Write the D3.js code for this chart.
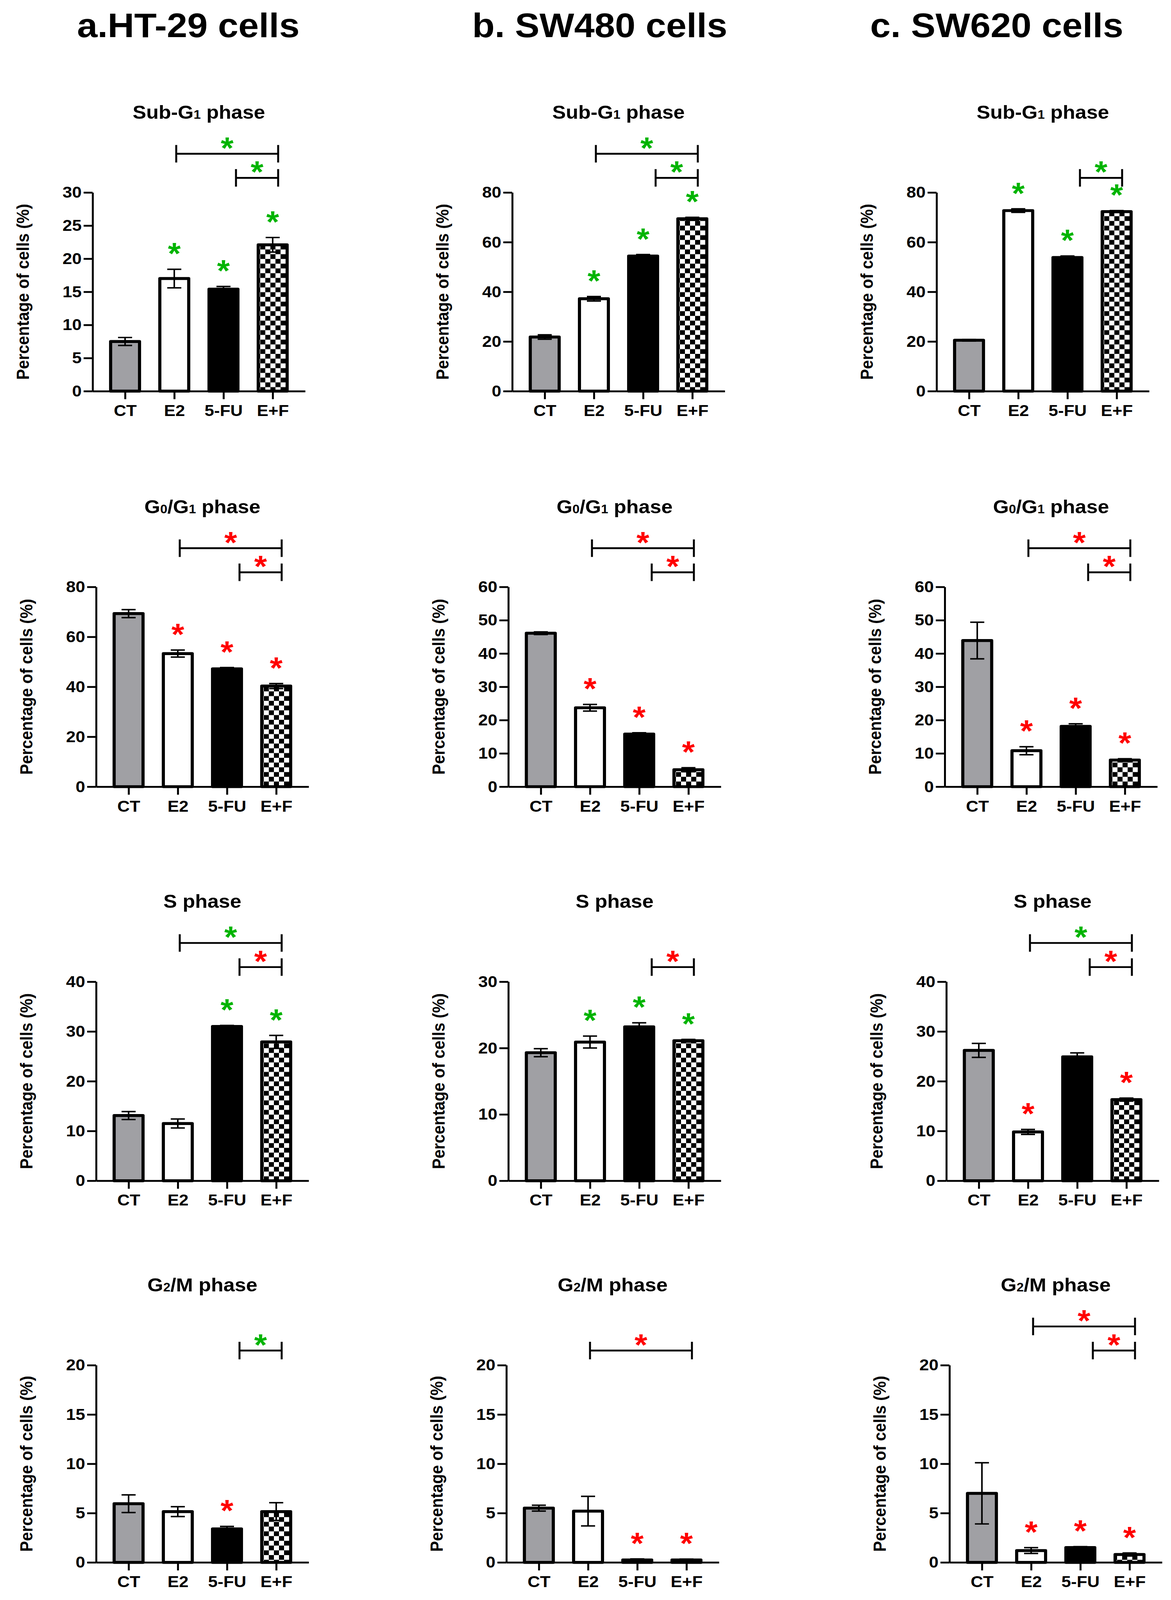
<!DOCTYPE html>
<html>
<head>
<meta charset="utf-8">
<script src="https://cdn.jsdelivr.net/npm/d3@7"></script>
<style>
  html, body { margin: 0; padding: 0; background: #fff; overflow: hidden; }
  #fig { display: block; width: 100vw; height: 100vh; }
  svg text { font-family: "Liberation Sans", Arial, sans-serif; font-weight: bold; }
</style>
</head>
<body>
<svg id="fig" viewBox="0 0 2997 4381" preserveAspectRatio="none"></svg>
<script>
// 1: DATA
const groups = ["CT", "E2", "5-FU", "E+F"];
const cellLines = ["a.HT-29 cells", "b. SW480 cells", "c. SW620 cells"];
const yLabel = "Percentage of cells (%)";

// "_" marks a subscript digit
const phaseTitles = ["Sub-G_1 phase", "G_0/G_1 phase", "S phase", "G_2/M phase"];

// Sub-G1 phase: one row per cell line, one value per group
const subG1Means  = [[7.5, 17.0, 15.4, 22.1], [21.8, 37.2, 54.4, 69.4], [20.5, 72.7, 53.8, 72.3]];
const subG1Errors = [[0.6, 1.4, 0.4, 1.1], [0.9, 0.9, 0.6, 0.6], [0.3, 0.7, 0.6, 0.4]];
const subG1Stars  = [["", "g", "g", "g"], ["", "g", "g", "g"], ["", "g", "g", "g"]];
const subG1Brackets = [
  [["E2", "E+F", "g", 1], ["5-FU", "E+F", "g", 0]],
  [["E2", "E+F", "g", 1], ["5-FU", "E+F", "g", 0]],
  [["5-FU", "E+F", "g", 0]]
];
const subG1YMax = [30, 80, 80];
const subG1YStep = [5, 20, 20];

// G0/G1 phase
const g0g1Means  = [[69.3, 53.3, 47.2, 40.3], [46.1, 23.7, 15.8, 5.1], [43.9, 10.8, 18.1, 8.0]];
const g0g1Errors = [[1.6, 1.4, 0.5, 1.0], [0.4, 1.0, 0.4, 0.6], [5.5, 1.2, 0.8, 0.4]];
const g0g1Stars  = [["", "r", "r", "r"], ["", "r", "r", "r"], ["", "r", "r", "r"]];
const g0g1Brackets = [
  [["E2", "E+F", "r", 1], ["5-FU", "E+F", "r", 0]],
  [["E2", "E+F", "r", 1], ["5-FU", "E+F", "r", 0]],
  [["E2", "E+F", "r", 1], ["5-FU", "E+F", "r", 0]]
];
const g0g1YMax = [80, 60, 60];
const g0g1YStep = [20, 10, 10];

// S phase
const sMeans  = [[13.1, 11.5, 31.0, 27.9], [19.3, 20.9, 23.2, 21.1], [26.2, 9.8, 24.9, 16.3]];
const sErrors = [[0.8, 0.9, 0.2, 1.3], [0.6, 0.9, 0.6, 0.2], [1.4, 0.5, 0.8, 0.3]];
const sStars  = [["", "", "g", "g"], ["", "g", "g", "g"], ["", "r", "", "r"]];
const sBrackets = [
  [["E2", "E+F", "g", 1], ["5-FU", "E+F", "r", 0]],
  [["5-FU", "E+F", "r", 0]],
  [["E2", "E+F", "g", 1], ["5-FU", "E+F", "r", 0]]
];
const sYMax = [40, 30, 40];
const sYStep = [10, 10, 10];

// G2/M phase
const g2mMeans  = [[5.95, 5.15, 3.4, 5.15], [5.5, 5.2, 0.25, 0.25], [7.0, 1.2, 1.5, 0.8]];
const g2mErrors = [[0.9, 0.5, 0.25, 0.9], [0.3, 1.5, 0.1, 0.08], [3.1, 0.3, 0.1, 0.15]];
const g2mStars  = [["", "", "r", ""], ["", "", "r", "r"], ["", "r", "r", "r"]];
const g2mBrackets = [
  [["5-FU", "E+F", "g", 0]],
  [["E2", "E+F", "r", 0]],
  [["E2", "E+F", "r", 1], ["5-FU", "E+F", "r", 0]]
];
const g2mYMax = [20, 20, 20];
const g2mYStep = [5, 5, 5];

const phases = [
  { title: phaseTitles[0], means: subG1Means, errors: subG1Errors, stars: subG1Stars, brackets: subG1Brackets, yMax: subG1YMax, yStep: subG1YStep },
  { title: phaseTitles[1], means: g0g1Means, errors: g0g1Errors, stars: g0g1Stars, brackets: g0g1Brackets, yMax: g0g1YMax, yStep: g0g1YStep },
  { title: phaseTitles[2], means: sMeans, errors: sErrors, stars: sStars, brackets: sBrackets, yMax: sYMax, yStep: sYStep },
  { title: phaseTitles[3], means: g2mMeans, errors: g2mErrors, stars: g2mStars, brackets: g2mBrackets, yMax: g2mYMax, yStep: g2mYStep }
];

// 2: LAYOUT (figure drawn in 2997x4381 units, stretched to the window)
const panelX = [[237, 1311, 2397], [246, 1301, 2418], [246, 1301, 2422], [246, 1296, 2430]];
const panelTop = [527, 1607, 2688, 3738];
const panelH = [544, 547, 545, 540];
const plotW = 544;
const headerX = [482, 1535, 2551];

const starColor = { g: "#00b400", r: "#ff0000" };
const barFill = { "CT": "#a0a0a4", "E2": "#ffffff", "5-FU": "#000000", "E+F": "url(#checker)" };

const svg = d3.select("#fig");
svg.append("rect").attr("width", 2997).attr("height", 4381).attr("fill", "#fff");

// checkerboard pattern for E+F
const pat = svg.append("defs").append("pattern")
    .attr("id", "checker")
    .attr("patternUnits", "userSpaceOnUse")
    .attr("width", 26).attr("height", 26);
pat.append("rect").attr("width", 26).attr("height", 26).attr("fill", "#fff");
pat.append("rect").attr("width", 13).attr("height", 13).attr("fill", "#000");
pat.append("rect").attr("x", 13).attr("y", 13).attr("width", 13).attr("height", 13).attr("fill", "#000");

// column headers
svg.selectAll(".header")
    .data(cellLines)
    .join("text")
    .attr("class", "header")
    .attr("x", (d, i) => headerX[i])
    .attr("y", 102)
    .attr("text-anchor", "middle")
    .attr("font-size", 94)
    .text(d => d);

function addTitle(sel, title) {
    // split "Sub-G_1 phase" into normal and subscript pieces
    const parts = title.split(/(_\d)/).filter(p => p.length);
    parts.forEach(p => {
        if (p[0] === "_") sel.append("tspan").attr("font-size", 33).text(p.slice(1));
        else sel.append("tspan").text(p);
    });
}

// 3: DRAW PANELS
phases.forEach((ph, r) => {
    cellLines.forEach((cl, c) => {
        const h = panelH[r];
        const g = svg.append("g")
            .attr("transform", `translate(${panelX[r][c]},${panelTop[r]})`);

        const x = d3.scalePoint().domain(groups).range([0, plotW]).padding(0.66);
        const y = d3.scaleLinear().domain([0, ph.yMax[c]]).range([h, 0]);

        const data = groups.map((k, i) => ({
            group: k,
            mean: ph.means[c][i],
            err: ph.errors[c][i],
            star: ph.stars[c][i]
        }));

        // bars
        g.selectAll(".bar")
            .data(data)
            .join("rect")
            .attr("class", "bar")
            .attr("x", d => x(d.group) - 37)
            .attr("width", 74)
            .attr("y", d => y(d.mean))
            .attr("height", d => y(0) - y(d.mean))
            .attr("fill", d => barFill[d.group])
            .attr("stroke", "#000")
            .attr("stroke-width", 8)
            .attr("stroke-linejoin", "round");

        // error bars (mean +/- SD)
        const eb = g.selectAll(".err")
            .data(data)
            .join("g")
            .attr("class", "err")
            .attr("stroke", "#000")
            .attr("stroke-width", 4);
        eb.append("line")
            .attr("x1", d => x(d.group)).attr("x2", d => x(d.group))
            .attr("y1", d => y(Math.max(0, d.mean - d.err))).attr("y2", d => y(d.mean + d.err));
        eb.append("line")
            .attr("x1", d => x(d.group) - 18).attr("x2", d => x(d.group) + 18)
            .attr("y1", d => y(d.mean + d.err)).attr("y2", d => y(d.mean + d.err));
        eb.append("line")
            .attr("x1", d => x(d.group) - 18).attr("x2", d => x(d.group) + 18)
            .attr("y1", d => y(Math.max(0, d.mean - d.err))).attr("y2", d => y(Math.max(0, d.mean - d.err)));

        // axes
        const yAxis = g.append("g")
            .call(d3.axisLeft(y)
                .tickValues(d3.range(0, ph.yMax[c] + ph.yStep[c] / 2, ph.yStep[c]))
                .tickSize(23).tickPadding(5).tickSizeOuter(0));
        yAxis.attr("font-size", 44);
        yAxis.select(".domain").attr("stroke-width", 5);
        yAxis.selectAll(".tick line").attr("stroke-width", 5);
        yAxis.selectAll(".tick text").attr("fill", "#000");

        const xAxis = g.append("g")
            .attr("transform", `translate(0,${h})`)
            .call(d3.axisBottom(x).tickSize(22).tickPadding(15).tickSizeOuter(0));
        xAxis.attr("font-size", 44);
        xAxis.select(".domain").attr("stroke-width", 5);
        xAxis.selectAll(".tick line").attr("stroke-width", 5);
        xAxis.selectAll(".tick text").attr("fill", "#000");

        // y label
        g.append("text")
            .attr("transform", `translate(-178,${h / 2}) rotate(-90)`)
            .attr("text-anchor", "middle")
            .attr("dy", "0.35em")
            .attr("font-size", 44)
            .text(yLabel);

        // title
        addTitle(g.append("text")
            .attr("x", plotW / 2)
            .attr("y", -202)
            .attr("text-anchor", "middle")
            .attr("font-size", 52), ph.title);

        // asterisks above bars
        g.selectAll(".star")
            .data(data.filter(d => d.star))
            .join("text")
            .attr("class", "star")
            .attr("x", d => x(d.group))
            .attr("y", d => y(d.mean + d.err) - 62 + 48)
            .attr("text-anchor", "middle")
            .attr("font-size", 84)
            .attr("fill", d => starColor[d.star])
            .text("*");

        // comparison brackets
        ph.brackets[c].forEach(([a, b, col, level]) => {
            const ly = level ? -106 : -40;
            const x1 = x(a) + (a === "5-FU" ? 32 : 5);
            const x2 = x(b) + 14;
            const bg = g.append("g").attr("stroke", "#000").attr("stroke-width", 5);
            bg.append("line").attr("x1", x1).attr("x2", x2).attr("y1", ly).attr("y2", ly);
            bg.append("line").attr("x1", x1).attr("x2", x1).attr("y1", ly - 24).attr("y2", ly + 24);
            bg.append("line").attr("x1", x2).attr("x2", x2).attr("y1", ly - 24).attr("y2", ly + 24);
            g.append("text")
                .attr("x", (x1 + x2) / 2)
                .attr("y", ly - 35 + 48)
                .attr("text-anchor", "middle")
                .attr("font-size", 84)
                .attr("fill", starColor[col])
                .text("*");
        });
    });
});
</script>
</body>
</html>
